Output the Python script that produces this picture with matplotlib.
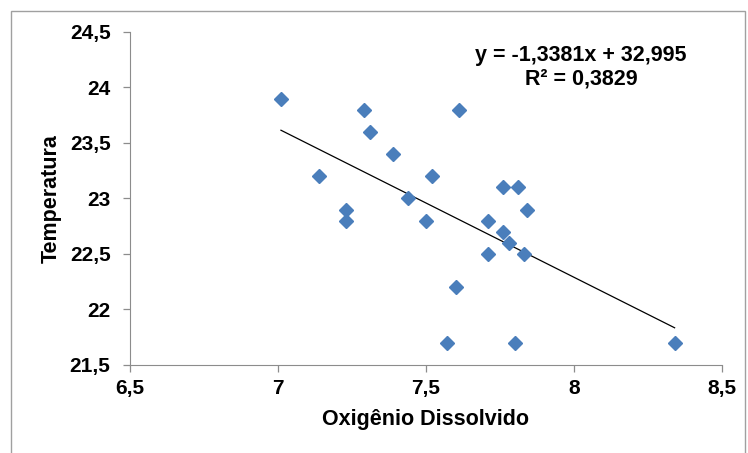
import matplotlib.pyplot as plt
from matplotlib.patches import Rectangle

# dissolved oxygen vs temperature
oxigenio = [7.01, 7.14, 7.23, 7.23, 7.29, 7.31, 7.39, 7.44, 7.50, 7.52, 7.61, 7.57,
            7.60, 7.71, 7.71, 7.76, 7.76, 7.78, 7.80, 7.81, 7.84, 7.83, 8.34]
temperatura = [23.9, 23.2, 22.9, 22.8, 23.8, 23.6, 23.4, 23.0, 22.8, 23.2, 23.8, 21.7,
               22.2, 22.8, 22.5, 23.1, 22.7, 22.6, 21.7, 23.1, 22.9, 22.5, 21.7]
slope = -1.3381
intercept = 32.995
xticks = [6.5, 7, 7.5, 8, 8.5]
yticks = [21.5, 22, 22.5, 23, 23.5, 24, 24.5]

plt.rcParams['font.family'] = ['Liberation Sans', 'DejaVu Sans']

fig = plt.figure(figsize=(7.48, 4.53), dpi=100)
ax = fig.add_axes([0.1738, 0.1943, 0.7914, 0.7351])

ax.plot(oxigenio, temperatura, linestyle='none', marker='D', markersize=7,
        color='#4a7ebb', zorder=3)

x0, x1 = min(oxigenio), max(oxigenio)
ax.plot([x0, x1], [slope * x0 + intercept, slope * x1 + intercept],
        color='black', linewidth=0.9, zorder=2)

ax.set_xlim(6.5, 8.5)
ax.set_ylim(21.5, 24.5)
ax.set_xticks(xticks)
ax.set_yticks(yticks)
fmt = lambda v: ('%g' % v).replace('.', ',')
ax.set_xticklabels([fmt(v) for v in xticks], fontweight='bold', fontsize=15)
ax.set_yticklabels([fmt(v) for v in yticks], fontweight='bold', fontsize=15)

for s in ['top', 'right']:
    ax.spines[s].set_visible(False)
for s in ['left', 'bottom']:
    ax.spines[s].set_color('#8c8c8c')
ax.tick_params(axis='both', color='#8c8c8c', length=5, width=0.9)
ax.tick_params(axis='y', pad=9)
ax.tick_params(axis='x', pad=5)

ax.set_xlabel('Oxigênio Dissolvido', fontweight='bold', fontsize=15.5, labelpad=8)
ax.set_ylabel('Temperatura', fontweight='bold', fontsize=15.5, labelpad=6)

fig.text(581 / 748, 1 - 61 / 453, 'y = -1,3381x + 32,995', ha='center', va='baseline',
         fontweight='bold', fontsize=15.5)
fig.text(581 / 748, 1 - 85 / 453, 'R² = 0,3829', ha='center', va='baseline',
         fontweight='bold', fontsize=15.5)

fig.patches.append(Rectangle((11 / 748, -0.05), (745 - 11) / 748, 1.05 - 11 / 453,
                             transform=fig.transFigure, fill=False,
                             edgecolor='#a0a0a0', linewidth=1))

fig.savefig('out.png', dpi=100)
